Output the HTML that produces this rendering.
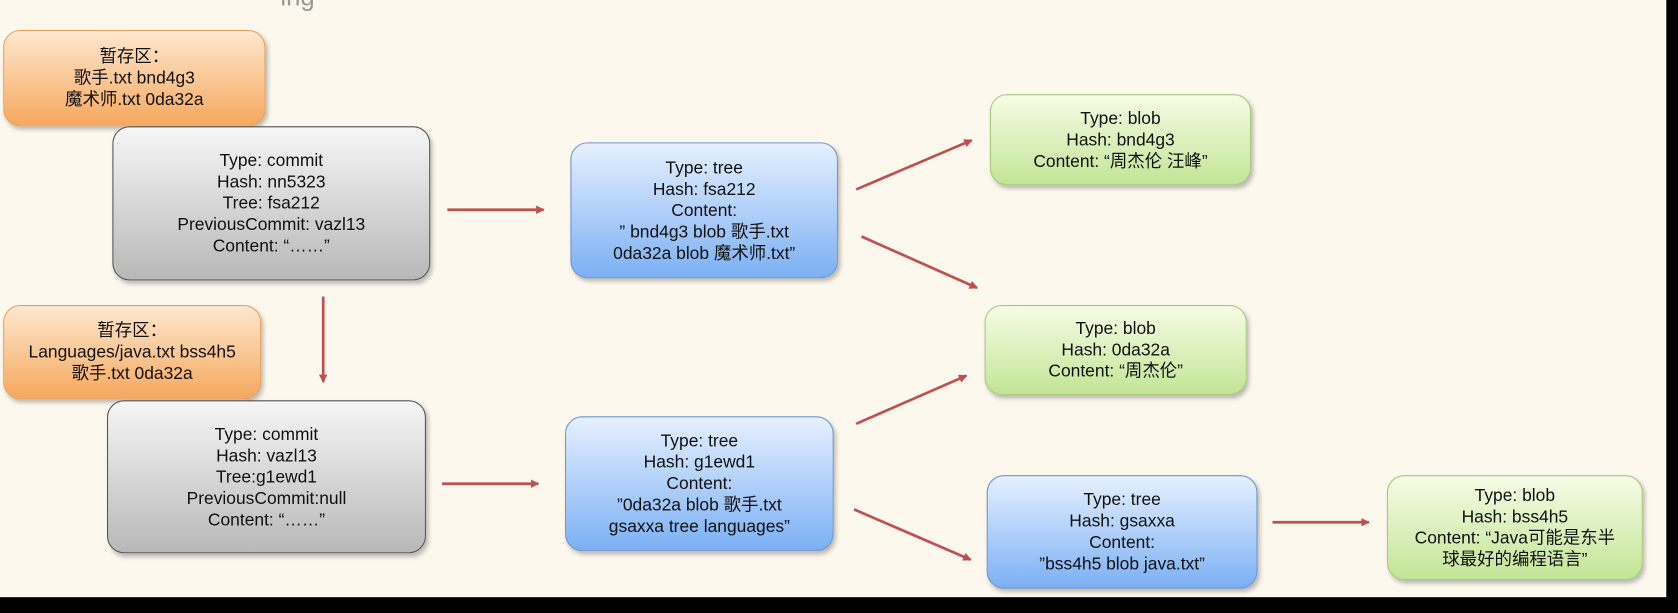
<!DOCTYPE html>
<html><head><meta charset="utf-8"><style>
html,body{margin:0;padding:0;background:#000;}
#wrap{width:1678px;height:613px;overflow:hidden;position:relative;background:#000;}
#c{position:absolute;left:0;top:0;width:1568px;height:573px;transform:scale(1.0702);transform-origin:0 0;}
#bg{position:absolute;left:0;top:0;width:1557px;height:558px;background:#fdf8ee;}
.b{position:absolute;box-sizing:border-box;border-radius:16px;display:flex;flex-direction:column;justify-content:center;align-items:center;text-align:center;font-family:"Liberation Sans","Noto Sans CJK SC",sans-serif;font-size:16.3px;line-height:20px;color:#111;box-shadow:2px 3px 4px rgba(0,0,0,.25);}
.o{background:linear-gradient(#fde8cf,#f6a85e);border:1px solid #e8a060;}
.g{background:linear-gradient(#f6f6f6,#b8b8b8);border:1px solid #555;}
.t{background:linear-gradient(#e6f0ff,#7cb0f4);border:1px solid #6a95d0;}
.n{background:linear-gradient(#f6fce6,#c3e596);border:1px solid #a8c880;}
</style></head><body><div id="wrap"><div id="c">
<div id="bg"></div>
<div style="position:absolute;left:262px;top:-16px;font-family:'Liberation Sans',sans-serif;font-size:24px;color:#999;">ing</div>
<div class="b o" style="left:3px;top:28px;width:245px;height:90px;">暂存区：<br>歌手.txt bnd4g3<br>魔术师.txt 0da32a</div>
<div class="b o" style="left:3px;top:285px;width:241px;height:88px;">暂存区：<br>Languages/java.txt bss4h5<br>歌手.txt 0da32a</div>
<div class="b g" style="left:105px;top:118px;width:297px;height:144px;">Type: commit<br>Hash: nn5323<br>Tree: fsa212<br>PreviousCommit: vazl13<br>Content: “……”</div>
<div class="b g" style="left:100px;top:374px;width:298px;height:143px;">Type: commit<br>Hash: vazl13<br>Tree:g1ewd1<br>PreviousCommit:null<br>Content: “……”</div>
<div class="b t" style="left:533px;top:133px;width:250px;height:127px;">Type: tree<br>Hash: fsa212<br>Content:<br>” bnd4g3 blob 歌手.txt<br>0da32a blob 魔术师.txt”</div>
<div class="b t" style="left:528px;top:389px;width:251px;height:126px;">Type: tree<br>Hash: g1ewd1<br>Content:<br>”0da32a blob 歌手.txt<br>gsaxxa tree languages”</div>
<div class="b n" style="left:925px;top:88px;width:244px;height:85px;">Type: blob<br>Hash: bnd4g3<br>Content: “周杰伦 汪峰”</div>
<div class="b n" style="left:920px;top:285px;width:245px;height:84px;">Type: blob<br>Hash: 0da32a<br>Content: “周杰伦”</div>
<div class="b t" style="left:922px;top:444px;width:253px;height:106px;">Type: tree<br>Hash: gsaxxa<br>Content:<br>”bss4h5 blob java.txt”</div>
<div class="b n" style="left:1296px;top:444px;width:239px;height:98px;">Type: blob<br>Hash: bss4h5<br>Content: “Java可能是东半<br>球最好的编程语言”</div>
<svg style="position:absolute;left:0;top:0" width="1568" height="573">
<defs><marker id="a" markerWidth="8" markerHeight="8" refX="7" refY="4" orient="auto" markerUnits="userSpaceOnUse"><path d="M0,0L8,4L0,8z" fill="#c0504d"/></marker></defs>
<g stroke="#c0504d" stroke-width="2.5" fill="none" marker-end="url(#a)">
<line x1="418" y1="196" x2="508" y2="196"/>
<line x1="302" y1="277" x2="302" y2="357"/>
<line x1="413" y1="452" x2="503" y2="452"/>
<line x1="800" y1="177" x2="908" y2="131"/>
<line x1="805" y1="221" x2="913" y2="269"/>
<line x1="800" y1="396" x2="903" y2="351"/>
<line x1="798" y1="476" x2="907" y2="523"/>
<line x1="1189" y1="488" x2="1279" y2="488"/>
</g></svg>
</div></div></body></html>
